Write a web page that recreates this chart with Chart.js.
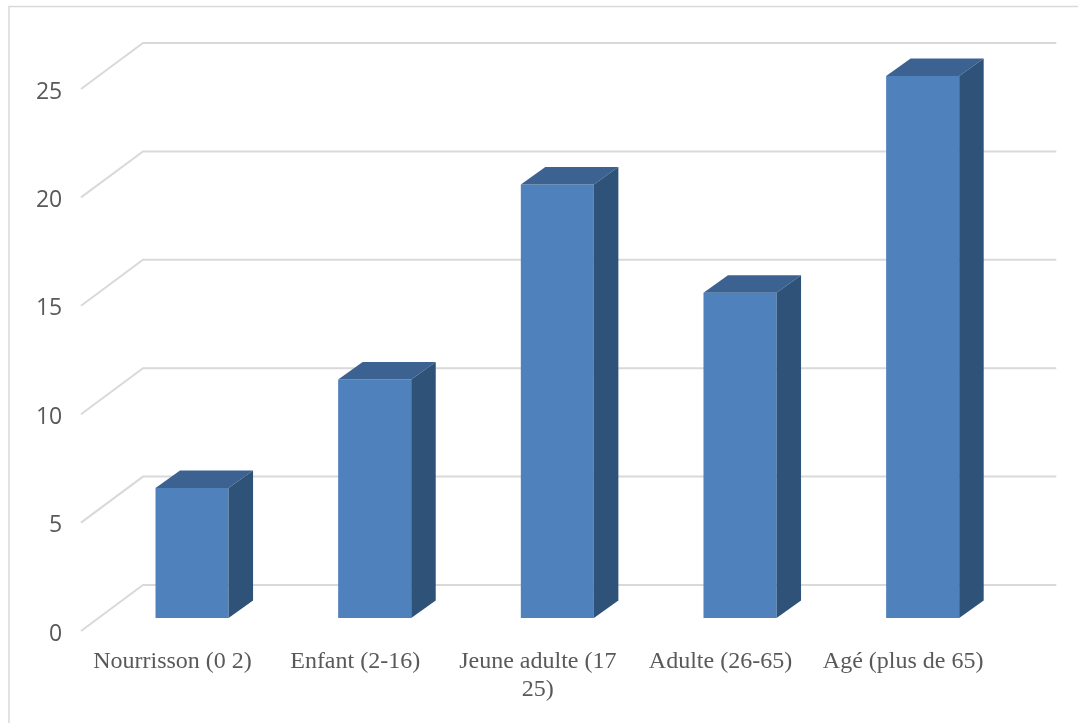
<!DOCTYPE html>
<html lang="fr">
<head>
<meta charset="utf-8">
<title>Répartition par âge</title>
<script src="https://cdn.jsdelivr.net/npm/chart.js@4/dist/chart.umd.min.js"></script>
<style>
    html, body { margin: 0; padding: 0; background: #fff; }
    canvas { display: block; }
</style>
</head>
<body>
<canvas id="ageChart" width="1078" height="723"></canvas>
<script>
const categories = ['Nourrisson (0 2)', 'Enfant (2-16)', ['Jeune adulte (17', '25)'], 'Adulte (26-65)', 'Agé (plus de 65)'];
const counts = [6, 11, 20, 15, 25];
const yMax = 25;
const yStep = 5;

// depth of the fake 3D box, in pixels
const barDepth = { x: 24.5, y: -17.5 };
const wallFront = { x: -19.7, y: 13 };
const wallBack = { x: 42.3, y: -33 };

// frame round the chart
const framePlugin = {
    id: 'frame',
    beforeDraw: function (chart) {
        const ctx = chart.ctx;
        ctx.save();
        ctx.strokeStyle = '#d9d9d9';
        ctx.lineWidth = 1.5;
        ctx.beginPath();
        ctx.moveTo(9, 723);
        ctx.lineTo(9, 6.5);
        ctx.lineTo(1078, 6.5);
        ctx.stroke();
        ctx.restore();
    }
};

// side wall and back wall gridlines
const wallsPlugin = {
    id: 'walls',
    beforeDatasetsDraw: function (chart) {
        const ctx = chart.ctx;
        const area = chart.chartArea;
        const yScale = chart.scales.y;
        ctx.save();
        ctx.strokeStyle = '#d9d9d9';
        ctx.lineWidth = 2;
        yScale.ticks.forEach(function (tick) {
            const y = yScale.getPixelForValue(tick.value);
            ctx.beginPath();
            ctx.moveTo(area.left + wallFront.x, y + wallFront.y);
            ctx.lineTo(area.left + wallBack.x, y + wallBack.y);
            ctx.lineTo(area.right + wallBack.x, y + wallBack.y);
            ctx.stroke();
        });
        ctx.restore();
    }
};

function fillFace(ctx, color, points) {
    ctx.fillStyle = color;
    ctx.beginPath();
    points.forEach(function (p, i) {
        if (i === 0) ctx.moveTo(p[0], p[1]);
        else ctx.lineTo(p[0], p[1]);
    });
    ctx.closePath();
    ctx.fill();
}

// top and right faces for each bar
const boxPlugin = {
    id: 'box',
    afterDatasetsDraw: function (chart) {
        const ctx = chart.ctx;
        const dx = barDepth.x;
        const dy = barDepth.y;
        ctx.save();
        chart.getDatasetMeta(0).data.forEach(function (bar) {
            const left = bar.x - bar.width / 2;
            const right = bar.x + bar.width / 2;
            fillFace(ctx, '#3c6291', [[left, bar.y], [left + dx, bar.y + dy], [right + dx, bar.y + dy], [right, bar.y]]);
            fillFace(ctx, '#2f5279', [[right, bar.y], [right + dx, bar.y + dy], [right + dx, bar.base + dy], [right, bar.base]]);
        });
        ctx.restore();
    }
};

new Chart(document.getElementById('ageChart'), {
    type: 'bar',
    data: {
        labels: categories,
        datasets: [{
            data: counts,
            backgroundColor: '#4f81bd',
            borderWidth: 0,
            barPercentage: 0.4,
            categoryPercentage: 1
        }]
    },
    options: {
        responsive: false,
        animation: false,
        layout: { padding: { top: 76, right: 64, bottom: 0, left: 0 } },
        plugins: {
            legend: { display: false },
            tooltip: { enabled: false }
        },
        scales: {
            x: {
                afterFit: function (scale) { scale.height = 105; },
                grid: { display: false, drawTicks: false },
                border: { display: false },
                ticks: {
                    autoSkip: false,
                    maxRotation: 0,
                    minRotation: 0,
                    padding: 30,
                    labelOffset: -19.5,
                    color: '#595959',
                    font: { family: '"Liberation Serif"', size: 24, lineHeight: 1.17 }
                }
            },
            y: {
                min: 0,
                max: yMax,
                afterFit: function (scale) { scale.width = 100.7; },
                grid: { display: false, drawTicks: false },
                border: { display: false },
                ticks: {
                    stepSize: yStep,
                    padding: 38.5,
                    labelOffset: 16,
                    color: '#595959',
                    font: { family: '"Open Sans"', size: 23 }
                }
            }
        }
    },
    plugins: [framePlugin, wallsPlugin, boxPlugin]
});
</script>
</body>
</html>
